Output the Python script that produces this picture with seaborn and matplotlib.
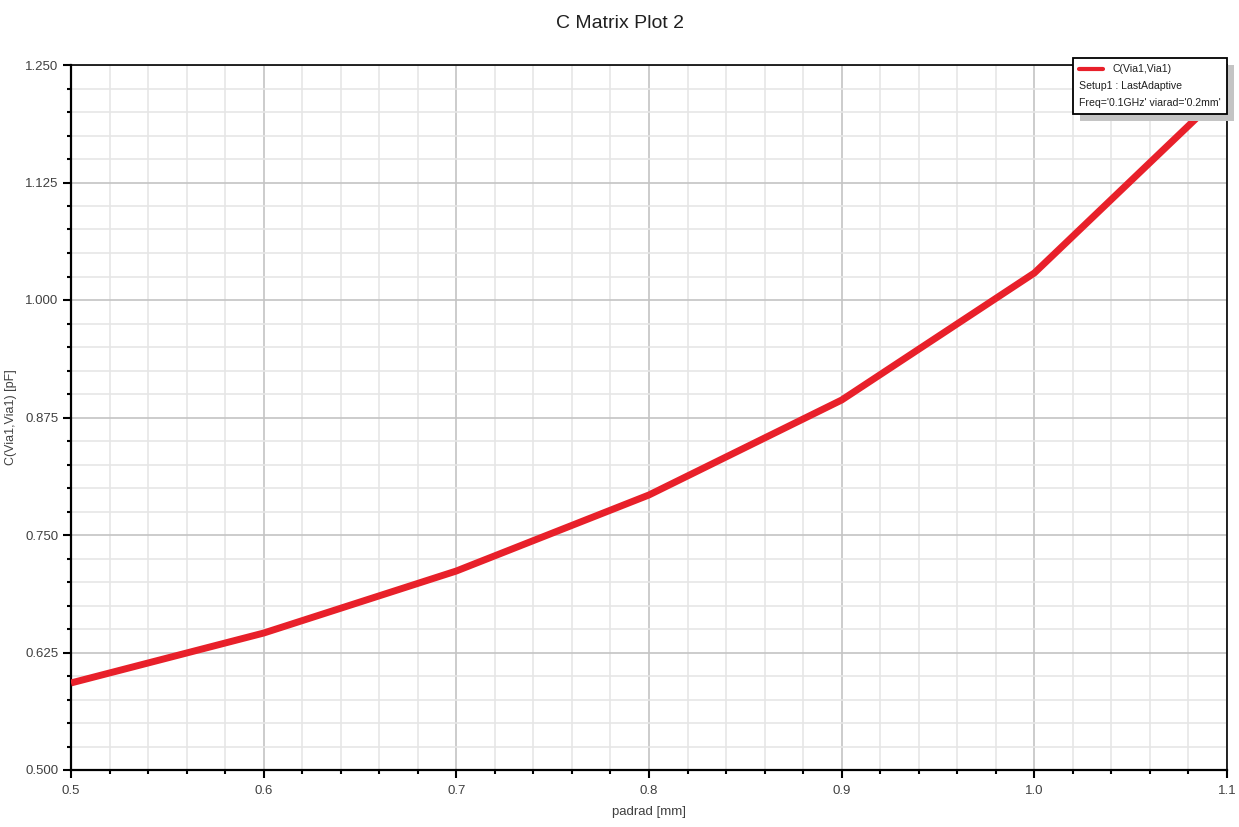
import matplotlib
matplotlib.use('Agg')
import matplotlib.pyplot as plt
import seaborn as sns
import pandas as pd
from matplotlib.ticker import MultipleLocator, FormatStrFormatter
from matplotlib.lines import Line2D

# datos
padrad = [0.5, 0.6, 0.7, 0.8, 0.9, 1.0, 1.1]
cap = [0.5926, 0.6457, 0.7117, 0.7926, 0.8936, 1.0287, 1.2245]

titulo = 'C Matrix Plot 2'
etiqueta_x = 'padrad [mm]'
etiqueta_y = 'C(Via1,Via1) [pF]'
leyenda = ['C(Via1,Via1)', 'Setup1 : LastAdaptive', "Freq='0.1GHz' viarad='0.2mm'"]

df = pd.DataFrame({'padrad': padrad, 'cap': cap})

sns.set_style('white')
plt.rcParams['font.family'] = ['Liberation Sans', 'DejaVu Sans']

fig = plt.figure(figsize=(12.39, 8.27), dpi=100)
ax = fig.add_axes([71 / 1239, 57 / 827, (1227 - 71) / 1239, 705 / 827])

rojo = '#e8202a'
sns.lineplot(data=df, x='padrad', y='cap', ax=ax, color=rojo, linewidth=5,
             solid_capstyle='butt', zorder=5)

ax.set_xlim(0.5, 1.1)
ax.set_ylim(0.5, 1.25)
ax.xaxis.set_major_locator(MultipleLocator(0.1))
ax.xaxis.set_minor_locator(MultipleLocator(0.02))
ax.yaxis.set_major_locator(MultipleLocator(0.125))
ax.yaxis.set_minor_locator(MultipleLocator(0.025))
ax.xaxis.set_major_formatter(FormatStrFormatter('%.1f'))
ax.yaxis.set_major_formatter(FormatStrFormatter('%.3f'))

ax.grid(which='major', color='#c4c4c4', linewidth=1.2)
ax.grid(which='minor', color='#e6e6e6', linewidth=1.2)
ax.set_axisbelow(True)

for lado in ['left', 'bottom']:
    ax.spines[lado].set_linewidth(1.6)
    ax.spines[lado].set_color('black')
for lado in ['top', 'right']:
    ax.spines[lado].set_linewidth(1.2)
    ax.spines[lado].set_color('black')

ax.tick_params(which='major', direction='out', length=6, width=1.5, color='black',
               labelsize=9.5, labelcolor='#404040', left=True, bottom=True)
ax.tick_params(which='minor', direction='out', length=3, width=1.5, color='black',
               left=True, bottom=True)
ax.tick_params(axis='x', which='major', pad=5)
ax.tick_params(axis='y', which='major', pad=3)

ax.set_xlabel(etiqueta_x, fontsize=9.5, color='#404040', labelpad=6)
ax.set_ylabel(etiqueta_y, fontsize=9, color='#404040')
ax.yaxis.set_label_coords(-0.047, 0.5)
fig.suptitle(titulo, fontsize=14, y=0.982, color='#202020')

handles = [Line2D([], [], color=rojo, linewidth=3),
           Line2D([], [], color='none'),
           Line2D([], [], color='none')]
leg = ax.legend(handles, leyenda, loc='upper right', bbox_to_anchor=(1.0, 1.01),
                borderaxespad=0, fontsize=7.6, frameon=True, fancybox=False,
                edgecolor='black', labelspacing=0.65, handlelength=2.3,
                handletextpad=0.9, borderpad=0.6,
                shadow={'ox': 5, 'oy': -5, 'facecolor': '#c4c4c4',
                        'edgecolor': 'none', 'alpha': 1.0})
leg.get_frame().set_linewidth(1.3)
leg.set_zorder(10)
for txt in leg.get_texts():
    txt.set_color('#202020')

# las dos lineas de texto sin espacio de simbolo
columnas = leg._legend_handle_box.get_children()
for entrada in columnas[0].get_children()[1:]:
    entrada.get_children()[0].width = 0
    entrada.sep = 0

plt.savefig('out.png', dpi=100)
